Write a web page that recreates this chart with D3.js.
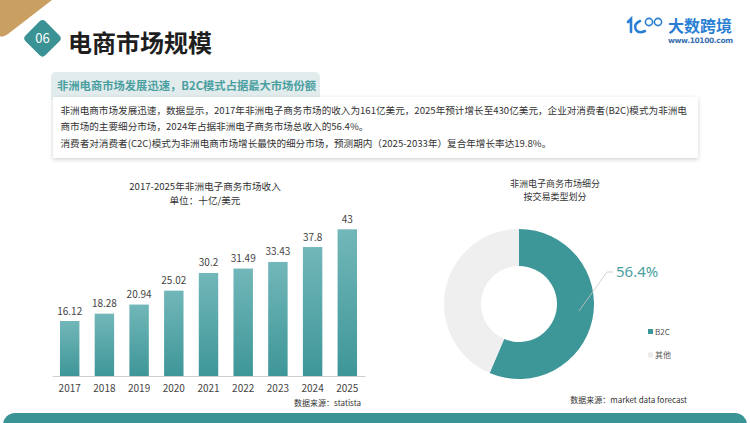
<!DOCTYPE html>
<html><head><meta charset="utf-8">
<script src="https://cdn.jsdelivr.net/npm/d3@7"></script>
<style>
html,body{margin:0;padding:0;background:#fff;}
svg{display:block;font-family:"Noto Sans CJK SC","Noto Sans",sans-serif;}
</style></head>
<body>
<svg id="c" width="750" height="423"></svg>
<script>
const years = ["2017","2018","2019","2020","2021","2022","2023","2024","2025"];
const revenue = [16.12,18.28,20.94,25.02,30.2,31.49,33.43,37.8,43];
const revenueLabels = ["16.12","18.28","20.94","25.02","30.2","31.49","33.43","37.8","43"];
const segments = ["B2C","其他"];
const segmentShare = [56.4,43.6];
const bodyLines = [
 "非洲电商市场发展迅速，数据显示，2017年非洲电子商务市场的收入为161亿美元，2025年预计增长至430亿美元，企业对消费者(B2C)模式为非洲电",
 "商市场的主要细分市场，2024年占据非洲电子商务市场总收入的56.4%。",
 "消费者对消费者(C2C)模式为非洲电商市场增长最快的细分市场，预测期内（2025-2033年）复合年增长率达19.8%。"
];

const svg = d3.select("#c");
const teal = "#3d9698";
const defs = svg.append("defs");
const g = defs.append("linearGradient").attr("id","barg").attr("x1",0).attr("y1",0).attr("x2",0).attr("y2",1);
g.append("stop").attr("offset","0%").attr("stop-color","#72b7b9");
g.append("stop").attr("offset","100%").attr("stop-color","#3e9698");
const f = defs.append("filter").attr("id","sh").attr("x","-5%").attr("y","-20%").attr("width","110%").attr("height","150%");
f.append("feDropShadow").attr("dx",0).attr("dy",1.5).attr("stdDeviation",2).attr("flood-color","#000").attr("flood-opacity",0.18);

// gold corner
svg.append("path").attr("d","M0,0 L52,0 L8,34 Q2,38 0,36 Z").attr("fill","#c9a062");
// diamond
svg.append("rect").attr("x",-14).attr("y",-14).attr("width",28).attr("height",28).attr("rx",4)
  .attr("fill","#3a9294").attr("transform","translate(42.5,38.3) rotate(45)");
svg.append("text").attr("x",42.5).attr("y",42.5).attr("text-anchor","middle").attr("fill","#fff")
  .attr("font-size",13).text("06");
svg.append("text").attr("x",68).attr("y",51.5).attr("font-size",24).attr("font-weight","bold").attr("fill","#1e1e1e").text("电商市场规模");

// logo
const lg = svg.append("g").attr("fill","none").attr("stroke","#2a7fd4").attr("stroke-width",2.6).attr("stroke-linecap","round");
lg.append("path").attr("d","M628,22 L631,19 L631,32");
lg.append("path").attr("d","M640,21 Q633,24 636,30 Q639,34 645,31");
lg.append("circle").attr("cx",649).attr("cy",22).attr("r",3.6).attr("stroke-width",1.6);
lg.append("circle").attr("cx",658).attr("cy",22).attr("r",3.6).attr("stroke-width",1.6);
svg.append("text").attr("x",668).attr("y",32).attr("font-size",16).attr("font-weight","bold").attr("fill","#2a7fd4").text("大数跨境");
svg.append("text").attr("x",668).attr("y",42.5).attr("font-size",7.5).attr("font-weight","bold").attr("fill","#3a6fb0")
  .attr("textLength",65).attr("font-family","DejaVu Sans").text("www.10100.com");

// subtitle bar
svg.append("rect").attr("x",51).attr("y",72).attr("width",269).attr("height",30).attr("rx",5).attr("fill","#e3eced");
// text box
svg.append("rect").attr("x",53).attr("y",97).attr("width",645).attr("height",61).attr("fill","#fff").attr("filter","url(#sh)");
svg.append("text").attr("x",57).attr("y",89.5).attr("font-size",11.3).attr("font-weight","bold").attr("fill","#4a9fa1")
  .text("非洲电商市场发展迅速，B2C模式占据最大市场份额");
svg.append("g").selectAll("text").data(bodyLines).join("text")
  .attr("x",60.5).attr("y",(d,i)=>113.5+i*16.6).attr("font-size",9.6).attr("fill","#333").text(d=>d);

// bar chart
const x = d3.scaleBand().domain(years).range([52,365]).paddingInner(0.44).paddingOuter(0.23);
const y = d3.scaleLinear().domain([0,43]).range([376,229.3]);
const bc = svg.append("g");
bc.append("text").attr("x",205).attr("y",189.5).attr("text-anchor","middle").attr("font-size",9.6).attr("fill","#333").text("2017-2025年非洲电子商务市场收入");
bc.append("text").attr("x",205).attr("y",203.5).attr("text-anchor","middle").attr("font-size",9.6).attr("fill","#333").text("单位：十亿/美元");
bc.selectAll("rect.bar").data(revenue).join("rect").attr("class","bar")
  .attr("x",(d,i)=>x(years[i])).attr("width",x.bandwidth())
  .attr("y",d=>y(d)).attr("height",d=>y(0)-y(d)).attr("fill","url(#barg)");
bc.selectAll("text.val").data(revenue).join("text").attr("class","val")
  .attr("x",(d,i)=>x(years[i])+x.bandwidth()/2).attr("y",d=>y(d)-6.5)
  .attr("text-anchor","middle").attr("font-size",10).attr("fill","#444").text((d,i)=>revenueLabels[i]);
const ax = bc.append("g").attr("transform","translate(0,376)").call(d3.axisBottom(x).tickSize(0).tickPadding(9));
ax.select(".domain").attr("stroke","#cfcfcf");
ax.selectAll("text").attr("font-size",10).attr("fill","#444").attr("font-family","Noto Sans CJK SC");
bc.append("text").attr("x",361).attr("y",405.5).attr("text-anchor","end").attr("font-size",8).attr("fill","#333").text("数据来源：statista");

// donut
const dc = svg.append("g");
dc.append("text").attr("x",555).attr("y",187).attr("text-anchor","middle").attr("font-size",9).attr("fill","#333").text("非洲电子商务市场细分");
dc.append("text").attr("x",555).attr("y",200.3).attr("text-anchor","middle").attr("font-size",9).attr("fill","#333").text("按交易类型划分");
const pie = d3.pie().sort(null).value(d=>d)(segmentShare);
const arc = d3.arc().innerRadius(38).outerRadius(75);
const colors = [teal,"#efefef"];
const dg = dc.append("g").attr("transform","translate(519,304)");
dg.selectAll("path").data(pie).join("path").attr("d",arc).attr("fill",(d,i)=>colors[i]);
dc.append("polyline").attr("points","579,311 607,272 613,272").attr("fill","none").attr("stroke","#c8c8c8").attr("stroke-width",0.8);
dc.append("text").attr("x",616).attr("y",277).attr("font-size",15).attr("fill","#4a9fa1").attr("font-family","Noto Sans")
  .text(segmentShare[0]+"%");
const leg = dc.append("g").selectAll("g").data(segments).join("g").attr("transform",(d,i)=>`translate(648,${329+i*23.5})`);
leg.append("rect").attr("width",5).attr("height",5).attr("fill",(d,i)=>i===0?teal:"#ececec");
leg.append("text").attr("x",7).attr("y",5.5).attr("font-size",8).attr("fill","#555").text(d=>d);
dc.append("text").attr("x",687).attr("y",403).attr("text-anchor","end").attr("font-size",8).attr("fill","#333").text("数据来源：market data forecast");

// bottom band
svg.append("rect").attr("x",3).attr("y",413).attr("width",744).attr("height",30).attr("rx",12).attr("fill","#3a9395");
</script>
</body></html>
